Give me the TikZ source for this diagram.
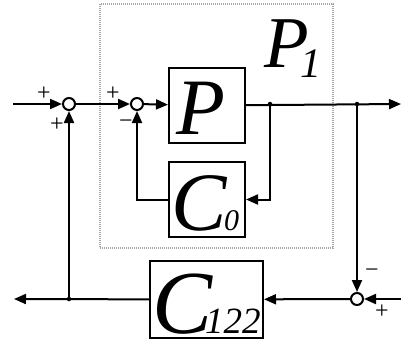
\documentclass[tikz,border=0pt]{standalone}
\usepackage{fontspec}
\setmainfont{Liberation Serif}
\usetikzlibrary{arrows.meta}
\begin{document}
\begin{tikzpicture}[x=1pt,y=-1pt,
  wire/.style={line width=2pt},
  arr/.style={wire,-{Triangle[length=12pt,width=10pt]}},
  blk/.style={draw,line width=2pt,rectangle,inner sep=0pt},
  sumnode/.style={draw,line width=2pt,circle,minimum size=12pt,inner sep=0pt,fill=white},
  dotn/.style={circle,fill,inner sep=0pt,minimum size=4.5pt},
  sgn/.style={font=\fontsize{24}{24}\selectfont,inner sep=0pt},
  lbl/.style={anchor=base west,inner sep=0pt,text depth=0pt,font=\itshape}]
\useasboundingbox (0,0) rectangle (401,340);
% dotted P1 frame
\draw[draw=gray!70,dash pattern=on 1pt off 1pt,line width=2.5pt] (100,4) rectangle (333,248);
% blocks
\node[blk,minimum width=76pt,minimum height=75pt] (P) at (207,105.5) {};
\node[blk,minimum width=76pt,minimum height=75pt] (C0) at (207,199.5) {};
\node[blk,minimum width=113pt,minimum height=77pt] (C122) at (206.5,299.5) {};
% labels
\node[lbl] (lP) at (176,134) {\fontsize{80}{80}\selectfont P};
\node[lbl] (lP1) at (264,67) {\fontsize{73}{73}\selectfont P};
\node[lbl] (lP1s) at (300,77) {\fontsize{42}{42}\selectfont 1};
\node[lbl] (lC0) at (171,230) {\fontsize{83}{83}\selectfont C};
\node[lbl] (lC0s) at (224,230) {\fontsize{30}{30}\selectfont 0};
\node[lbl] (lC) at (152,333) {\fontsize{90}{90}\selectfont C};
\node[lbl] (lCs) at (205,333) {\fontsize{37}{37}\selectfont 122};
% summing junctions
\node[sumnode] (s1) at (69,104) {};
\node[sumnode] (s2) at (137,104) {};
\node[sumnode] (s3) at (357,299) {};
% coordinates
\coordinate (in1) at (13,104);
\coordinate (out1) at (401,104);
\coordinate (b1) at (270,104);
\coordinate (b2) at (357,104);
\coordinate (in2) at (401,299);
\coordinate (out2) at (14,299);
\coordinate (b3) at (69,299);
\node[dotn] (d1) at (b1) {};
\node[dotn] (d2) at (b2) {};
\node[dotn] (d3) at (b3) {};
% connectors
\draw[arr] (in1) -- (s1);
\draw[arr] (s1) -- (s2);
\draw[arr] (s2) -- (P);
\draw[arr] (P) -- (out1);
\draw[arr] (b1) |- (C0.east);
\draw[arr] (C0.west) -| (s2.south);
\draw[arr] (b2) -- (s3);
\draw[arr] (in2) -- (s3);
\draw[arr] (s3) -- (C122);
\draw[arr] (C122) -- (out2);
\draw[arr] (b3) -- (s1.south);
% signs
\node[sgn] (p1) at (44,94) {+};
\node[sgn] (p2) at (57,125) {+};
\node[sgn] (p3) at (113,94) {+};
\node[sgn] (m1) at (126,124) {\char"2212};
\node[sgn] (m2) at (372,273) {\char"2212};
\node[sgn] (p4) at (382,312) {+};
\end{tikzpicture}
\end{document}
